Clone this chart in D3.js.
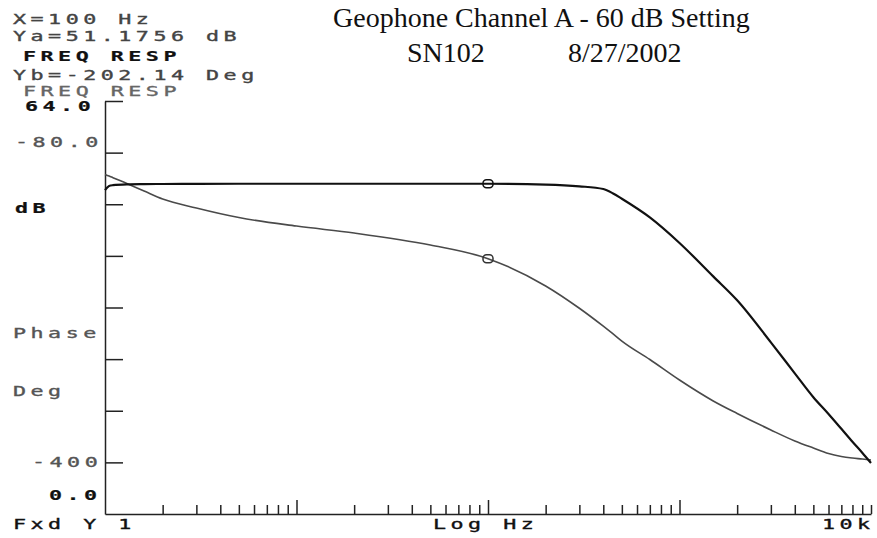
<!DOCTYPE html>
<html>
<head>
<meta charset="utf-8">
<script src="https://cdn.jsdelivr.net/npm/d3@7"></script>
<style>
  body { margin: 0; background: #fff; }
  svg { display: block; }
</style>
</head>
<body>
<svg id="chart" width="877" height="538"></svg>
<script>
// frequency points (Hz)
const freqHz = [1, 1.05, 1.1, 1.3, 1.6, 2, 3, 5, 10, 20, 50, 100, 200, 300, 400, 450, 500,
  700, 1000, 1500, 2000, 3000, 4000, 5000, 6000, 7000, 8000, 9000, 10000];
// trace A: magnitude, dB
const magDb = [50.2, 50.83, 50.95, 51.08, 51.12, 51.14, 51.17, 51.18, 51.18, 51.18, 51.18, 51.1756,
  51.05, 50.78, 50.36, 49.67, 48.85, 45.96, 42.0, 36.82, 33.12, 26.6, 21.8, 18.1, 15.5, 13.2,
  11.2, 9.5, 7.9];
// trace B: phase, degrees
const phaseDeg = [-136.9, -138.1, -139.4, -143.9, -149.7, -155.9, -162.9, -170.3, -176.9, -182.3,
  -191.6, -202.14, -223.3, -240.6, -254.5, -260.5, -266, -280.3, -296.2, -312.4, -322.1, -334.9,
  -343.4, -348.9, -353.2, -355.4, -356.6, -357.4, -358.2];

const markerHz = 100;
const magDomain = [0, 64];
const phaseDomain = [-400, -80];
const magTicks = [8, 16, 24, 32, 40, 48, 56, 64];

const headerLines = ['X=100 Hz', 'Ya=51.1756 dB', 'FREQ RESP', 'Yb=-202.14 Deg', 'FREQ RESP'];
const titleLines = ['Geophone Channel A - 60 dB Setting', 'SN102', '8/27/2002'];
const leftLabels = ['64.0', '-80.0', 'dB', 'Phase', 'Deg', '-400', '0.0'];
const bottomLabels = ['Fxd Y 1', 'Log Hz', '10k'];

const svg = d3.select('#chart');

const plotL = 105, plotR = 871, plotT = 101, plotB = 514;

const x = d3.scaleLog().domain([1, 10000]).range([plotL, plotR]);
const yMag = d3.scaleLinear().domain(magDomain).range([plotB, plotT]);
const yPhase = d3.scaleLinear().domain(phaseDomain).range([plotB, plotT]);

// plotter style text: wide monospace
function plotText(str, px, py, color, bold) {
  svg.append('text')
    .attr('transform', `translate(${px},${py}) scale(1.55,1)`)
    .attr('font-family', 'DejaVu Sans Mono')
    .attr('font-size', 14)
    .attr('letter-spacing', 2.9)
    .attr('font-weight', bold ? 'bold' : 'normal')
    .attr('fill', color)
    .attr('stroke', color)
    .attr('stroke-width', bold ? 0.2 : 0.35)
    .text(str);
}

// header block
plotText(headerLines[0], 13, 24, '#444');
plotText(headerLines[1], 13, 41, '#444');
plotText(headerLines[2], 23, 61, '#111', true);
plotText(headerLines[3], 13, 80, '#444');
plotText(headerLines[4], 23, 96, '#666');

// left side labels
plotText(leftLabels[0], 25, 111, '#111', true);
plotText(leftLabels[1], 15, 147, '#555');
plotText(leftLabels[2], 15, 213, '#111', true);
plotText(leftLabels[3], 13, 338, '#555');
plotText(leftLabels[4], 13, 396, '#555');
plotText(leftLabels[5], 32, 467, '#555');
plotText(leftLabels[6], 49, 500, '#111', true);

// bottom labels
plotText(bottomLabels[0], 13, 529, '#111');
plotText(bottomLabels[1], 433, 529, '#111');
plotText(bottomLabels[2], 822, 529, '#111');

// title
const serif = 'Liberation Serif';
svg.append('text')
  .attr('x', 333).attr('y', 27)
  .attr('font-family', serif)
  .attr('font-size', 28)
  .attr('fill', '#111')
  .text(titleLines[0]);
svg.append('text')
  .attr('x', 407).attr('y', 62)
  .attr('font-family', serif)
  .attr('font-size', 28)
  .attr('fill', '#111')
  .text(titleLines[1]);
svg.append('text')
  .attr('x', 568).attr('y', 62)
  .attr('font-family', serif)
  .attr('font-size', 28)
  .attr('fill', '#111')
  .text(titleLines[2]);

// y axis, ticks pointing inward
const yAxis = svg.append('g')
  .attr('transform', `translate(${plotL},0)`)
  .call(d3.axisRight(yMag).tickValues(magTicks).tickSize(18).tickSizeOuter(0).tickFormat(''));
yAxis.selectAll('path, line').attr('stroke', '#222').attr('stroke-width', 1.5);

// x axis, log ticks pointing up
const xTicks = [];
[1, 10, 100, 1000].forEach(d => {
  for (let k = 2; k <= 10; k++) xTicks.push(d * k);
});
const xAxis = svg.append('g')
  .attr('transform', `translate(0,${plotB})`)
  .call(d3.axisTop(x).tickValues(xTicks).tickSize(9).tickSizeOuter(0).tickFormat(''));
xAxis.selectAll('path, line').attr('stroke', '#222').attr('stroke-width', 1.5);
xAxis.selectAll('.tick line')
  .attr('y2', d => (d === 10 || d === 100 || d === 1000) ? -14 : -9);

const pts = freqHz.map((f, i) => ({ f: f, mag: magDb[i], ph: phaseDeg[i] }));

// phase trace (gray)
svg.append('path')
  .datum(pts)
  .attr('fill', 'none')
  .attr('stroke', '#4a4a4a')
  .attr('stroke-width', 1.6)
  .attr('d', d3.line().curve(d3.curveMonotoneX).x(d => x(d.f)).y(d => yPhase(d.ph)));

// magnitude trace (black)
svg.append('path')
  .datum(pts)
  .attr('fill', 'none')
  .attr('stroke', '#111')
  .attr('stroke-width', 2.2)
  .attr('d', d3.line().curve(d3.curveMonotoneX).x(d => x(d.f)).y(d => yMag(d.mag)));

// markers at 100 Hz
const mk = pts.find(d => d.f === markerHz);
[[yMag(mk.mag), '#111'], [yPhase(mk.ph), '#333']].forEach(([my, c]) => {
  svg.append('rect')
    .attr('x', x(markerHz) - 5).attr('y', my - 4)
    .attr('width', 10).attr('height', 8)
    .attr('rx', 3.5)
    .attr('fill', 'none')
    .attr('stroke', c)
    .attr('stroke-width', 1.5);
});
</script>
</body>
</html>
